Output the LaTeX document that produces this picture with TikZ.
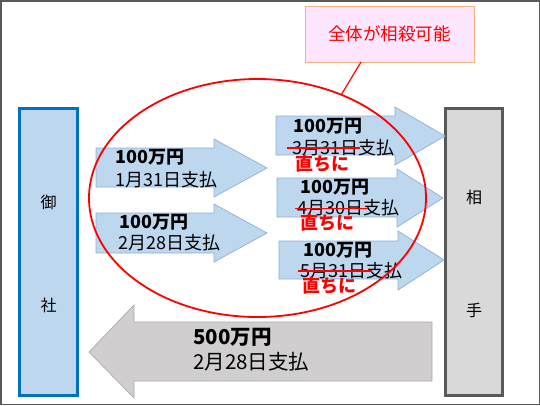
\documentclass[tikz,border=0pt]{standalone}
\usepackage{fontspec}
\setmainfont{Noto Sans CJK JP}
\usetikzlibrary{shapes.geometric}
\definecolor{lblue}{HTML}{BDD7EE}
\definecolor{lblueline}{HTML}{8CAFD6}
\definecolor{boxblue}{HTML}{0070C0}
\definecolor{gfill}{HTML}{D0CECE}
\definecolor{gline}{HTML}{ABABAB}
\definecolor{rgfill}{HTML}{D9D9D9}
\definecolor{rgline}{HTML}{595959}
\definecolor{pinkfill}{HTML}{FFE6FF}
\definecolor{pinkline}{HTML}{F4B183}
\definecolor{myred}{HTML}{FF0000}
\tikzset{
  txt/.style={inner sep=0pt, anchor=west, font=\fontsize{18}{20}\selectfont},
  btxt/.style={txt, font=\fontsize{18}{20}\selectfont\bfseries},
  rtxt/.style={txt, text=myred, font=\fontsize{18}{20}\selectfont\bfseries},
  bigtxt/.style={txt, font=\fontsize{20.5}{22}\selectfont},
  bigbtxt/.style={txt, font=\fontsize{20.5}{22}\selectfont\bfseries},
  barrow/.style={fill=lblue, draw=lblueline, line width=0.7pt},
  strike/.style={draw=myred, line width=1.6pt},
  party/.style={font=\fontsize{16}{18}\selectfont}
}
\begin{document}
\begin{tikzpicture}[x=1pt,y=-1pt]
\useasboundingbox (0,0) rectangle (540,405);
\draw[rgline, line width=1.5pt] (0.75,0.75) rectangle (539.25,404.25);
% parties
\node[draw=boxblue, fill=lblue, line width=2.2pt, minimum width=58pt, minimum height=287pt, inner sep=0pt] (us) at (48.5,252) {};
\node[party] (us1) at (48.5,202) {御};
\node[party] (us2) at (48.5,305) {社};
\node[draw=rgline, fill=rgfill, line width=2.6pt, minimum width=57pt, minimum height=287pt, inner sep=0pt] (them) at (474,252) {};
\node[party] (them1) at (474,197) {相};
\node[party] (them2) at (474,310) {手};
% big gray arrow
\draw[fill=gfill, draw=gline, line width=0.7pt] (432,322) -- (134,322) -- (134,305) -- (89,352) -- (134,398) -- (134,381) -- (432,381) -- cycle;
\node[bigbtxt] (t500) at (193,337) {500万円};
\node[bigtxt] (d500) at (193,362) {2月28日支払};
% blue arrows
\draw[barrow] (96,148) -- (214,148) -- (214,139) -- (267,168) -- (214,197) -- (214,187) -- (96,187) -- cycle;
\draw[barrow] (96,213) -- (214,213) -- (214,204) -- (267,233) -- (214,262) -- (214,253) -- (96,253) -- cycle;
\draw[barrow] (276,116) -- (395,116) -- (395,107) -- (445,136) -- (395,165) -- (395,155) -- (276,155) -- cycle;
\draw[barrow] (277,178) -- (397,178) -- (397,169) -- (443,198) -- (397,227) -- (397,217) -- (277,217) -- cycle;
\draw[barrow] (279,241) -- (398,241) -- (398,231) -- (444,260) -- (398,290) -- (398,279) -- (279,279) -- cycle;
% texts in arrows
\node[btxt] (a1) at (115,157) {100万円};
\node[txt] (b1) at (115,180) {1月31日支払};
\node[btxt] (a2) at (119,222) {100万円};
\node[txt] (b2) at (118,243) {2月28日支払};
\node[btxt] (a3) at (293,126) {100万円};
\node[txt] (b3) at (292,148) {3月31日支払};
\node[rtxt] (c3) at (295,164) {直ちに};
\node[btxt] (a4) at (300,187) {100万円};
\node[txt] (b4) at (297,208) {4月30日支払};
\node[rtxt] (c4) at (300,223) {直ちに};
\node[btxt] (a5) at (303,250) {100万円};
\node[txt] (b5) at (300,271) {5月31日支払};
\node[rtxt] (c5) at (302,286) {直ちに};
% strike lines
\draw[strike] (287,148) -- (360,148);
\draw[strike] (295,208.5) -- (368,208.5);
\draw[strike] (298,271) -- (372,271);
% ellipse
\node[ellipse, draw=myred, line width=1.8pt, minimum width=337pt, minimum height=238pt, inner sep=0pt] (ell) at (257.5,198) {};
% label
\node[draw=pinkline, fill=pinkfill, line width=1pt, minimum width=169pt, minimum height=56pt, inner sep=0pt, text=myred, font=\fontsize{17.5}{19}\selectfont] (lbl) at (389.5,34) {全体が相殺可能};
\coordinate (lp) at (361,62);
\draw[myred, line width=1.2pt] (lp) -- (ell.51);
\end{tikzpicture}
\end{document}
